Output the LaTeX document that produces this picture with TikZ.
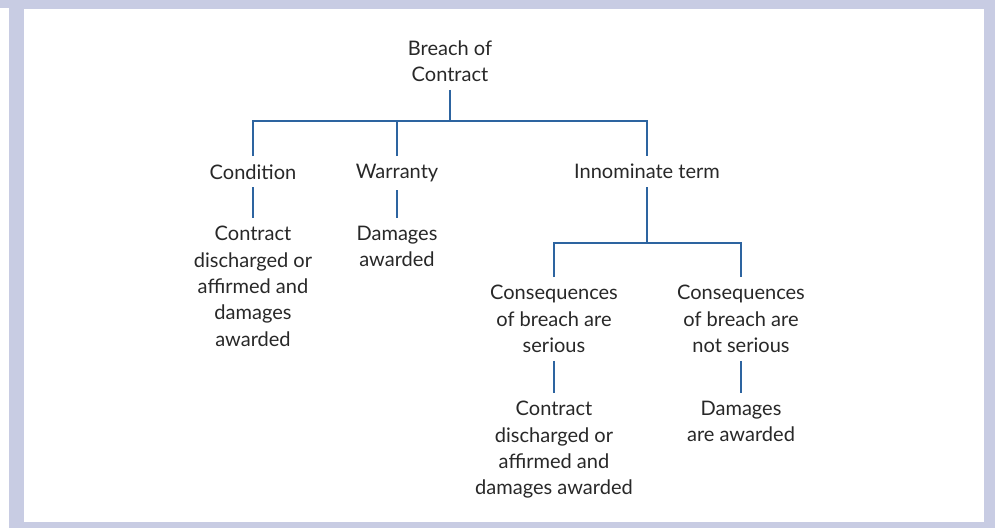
\documentclass[tikz,border=0pt]{standalone}
\usepackage{fontspec}
\setmainfont{Lato}
\definecolor{framecol}{RGB}{200,204,227}
\definecolor{linkcol}{RGB}{45,100,160}
\definecolor{textcol}{RGB}{40,40,40}

\begin{document}
\begin{tikzpicture}[x=0.02cm, y=-0.02cm,
  txt/.style={anchor=north, align=center, text=textcol, inner xsep=0pt, inner ysep=4.5pt, font=\fontsize{11.4}{15}\selectfont},
  link/.style={draw=linkcol, line width=1pt}]
\useasboundingbox (0,0) rectangle (995,528);
% frame
\fill[framecol] (9,0) rectangle (995,528);
\fill[framecol] (0,0) rectangle (9,8);
\fill[white] (24,9) rectangle (984,522);
% the tree
\node[txt] (breach) at (450,32) {Breach of\\Contract};
\node[txt] (cond) at (253,156) {Condition};
\node[txt] (warr) at (397,156) {Warranty};
\node[txt] (innom) at (647,156) {Innominate term};
\node[txt] (cond2) at (253,218) {Contract\\discharged or\\affirmed and\\damages\\awarded};
\node[txt] (warr2) at (397,218) {Damages\\awarded};
\node[txt] (ser) at (554,277) {Consequences\\of breach are\\serious};
\node[txt] (nser) at (741,277) {Consequences\\of breach are\\not serious};
\node[txt] (ser2) at (554,393) {Contract\\discharged or\\affirmed and\\damages awarded};
\node[txt] (nser2) at (741,393) {Damages\\are awarded};
\coordinate (bar1) at (450,121);
\coordinate (bar2) at (647,243);
\draw[link] (breach.south) -- (breach.south |- bar1);
\draw[link] (cond.north) -- (cond.north |- bar1) -- (innom.north |- bar1) -- (innom.north);
\draw[link] (warr.north) -- (warr.north |- bar1);
\draw[link] (cond.south) -- (cond2.north);
\draw[link] (warr.south) -- (warr2.north);
\draw[link] (innom.south) -- (innom.south |- bar2);
\draw[link] (ser.north) -- (ser.north |- bar2) -- (nser.north |- bar2) -- (nser.north);
\draw[link] (ser.south) -- (ser2.north);
\draw[link] (nser.south) -- (nser2.north);
\end{tikzpicture}
\end{document}
